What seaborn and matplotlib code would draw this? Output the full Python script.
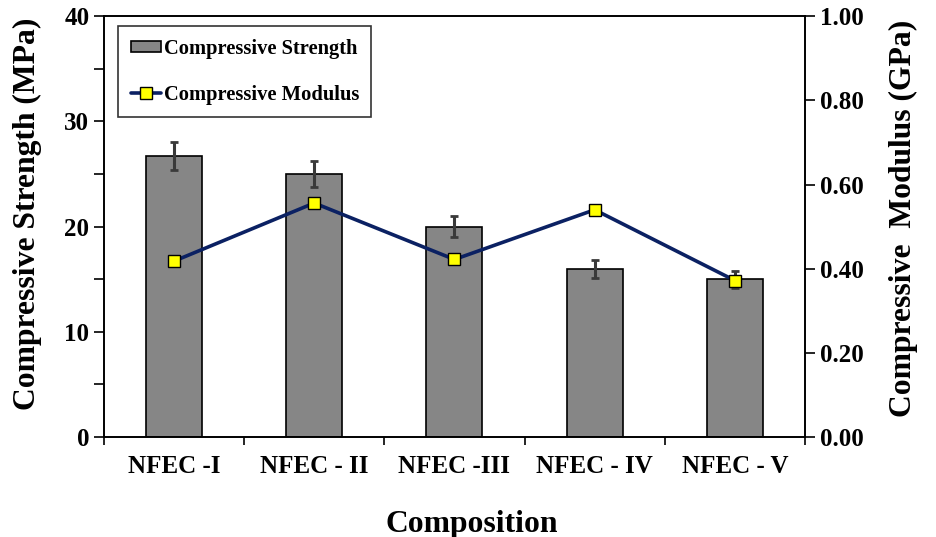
import numpy as np
import pandas as pd
import seaborn as sns
import matplotlib
matplotlib.use("Agg")
import matplotlib.pyplot as plt
from matplotlib.patches import Patch
from matplotlib.lines import Line2D

compositions = ["NFEC -I", "NFEC - II", "NFEC -III", "NFEC - IV", "NFEC - V"]
strength = [26.7, 25.0, 20.0, 16.0, 15.0]          # MPa
strength_err = [1.3, 1.2, 1.0, 0.85, 0.8]          # MPa
modulus = [0.418, 0.556, 0.422, 0.540, 0.372]       # GPa

sns.set_theme(style="white")
plt.rcParams["font.family"] = ["Liberation Serif", "DejaVu Serif"]
plt.rcParams["font.weight"] = "bold"
plt.rcParams["text.color"] = "black"
plt.rcParams["axes.labelcolor"] = "black"
plt.rcParams["xtick.color"] = "black"
plt.rcParams["ytick.color"] = "black"

BAR_COLOR = "#868686"
LINE_COLOR = "#0b2163"

df = pd.DataFrame({"Composition": compositions, "Strength": strength,
                   "Modulus": modulus, "idx": np.arange(len(compositions))})

fig = plt.figure(figsize=(9.36, 5.37), dpi=100)
ax = fig.add_axes([0.111, 0.186, 0.749, 0.784])

sns.barplot(data=df, x="Composition", y="Strength", ax=ax, color=BAR_COLOR,
            edgecolor="black", linewidth=1.2, width=0.4, saturation=1)
ax.errorbar(df["idx"], df["Strength"], yerr=strength_err, fmt="none",
            ecolor="#3a3a3a", elinewidth=2.2, capsize=2.8, capthick=2, zorder=5)

ax.set_xlim(-0.5, len(compositions) - 0.5)
ax.set_ylim(0, 40)
ax.set_yticks([0, 10, 20, 30, 40])
ax.set_yticks([5, 15, 25, 35], minor=True)
ax.set_xticks(np.arange(-0.5, len(compositions)), minor=True)
ax.tick_params(axis="x", which="major", length=0, pad=13, labelsize=18)
ax.tick_params(axis="x", which="minor", length=6, width=1.2, direction="out",
               bottom=True)
ax.tick_params(axis="y", which="both", length=7, width=1.2, direction="out",
               left=True, labelsize=18)
ax.set_xticklabels(compositions, fontweight="bold")
for lab in ax.get_yticklabels():
    lab.set_fontweight("bold")
ax.set_xlabel("Composition", fontsize=22.8, fontweight="bold")
ax.set_ylabel("Compressive Strength (MPa)", fontsize=22.8, fontweight="bold")
ax.xaxis.set_label_coords(0.525, -0.172)
ax.yaxis.set_label_coords(-0.088, 0.53)
for s in ax.spines.values():
    s.set_color("black")
    s.set_linewidth(1.2)

ax2 = ax.twinx()
sns.lineplot(data=df, x="idx", y="Modulus", ax=ax2, color=LINE_COLOR, linewidth=2.6,
             marker="s", markersize=9, markerfacecolor="#ffff00",
             markeredgecolor="black", markeredgewidth=1.0, zorder=6)
ax2.set_xlim(-0.5, len(compositions) - 0.5)
ax2.set_ylim(0, 1.0)
ax2.set_yticks([0, 0.2, 0.4, 0.6, 0.8, 1.0])
ax2.set_yticklabels([f"{v:.2f}" for v in [0, 0.2, 0.4, 0.6, 0.8, 1.0]], fontweight="bold")
ax2.tick_params(axis="y", length=7, width=1.2, direction="out", right=True,
                labelsize=18)
ax2.set_ylabel("Compressive  Modulus (GPa)", fontsize=22.8, fontweight="bold",
               rotation=90)
ax2.yaxis.set_label_coords(1.12, 0.52)
for s in ax2.spines.values():
    s.set_color("black")
    s.set_linewidth(1.2)

handles = [
    Patch(facecolor=BAR_COLOR, edgecolor="black", linewidth=1.2),
    Line2D([], [], color=LINE_COLOR, linewidth=2.6, marker="s", markersize=9,
           markerfacecolor="#ffff00", markeredgecolor="black"),
]
leg = ax2.legend(handles, ["Compressive Strength", "Compressive Modulus"],
                 loc="upper left", bbox_to_anchor=(0.012, 0.99), frameon=True,
                 fancybox=False, edgecolor="black",
                 labelspacing=1.25, handlelength=1.45, handleheight=0.45,
                 handletextpad=0.15, borderpad=0.6, borderaxespad=0.3,
                 prop={"weight": "bold", "size": 14.8})
leg.get_frame().set_linewidth(1.2)

fig.savefig("out.png", dpi=100)
